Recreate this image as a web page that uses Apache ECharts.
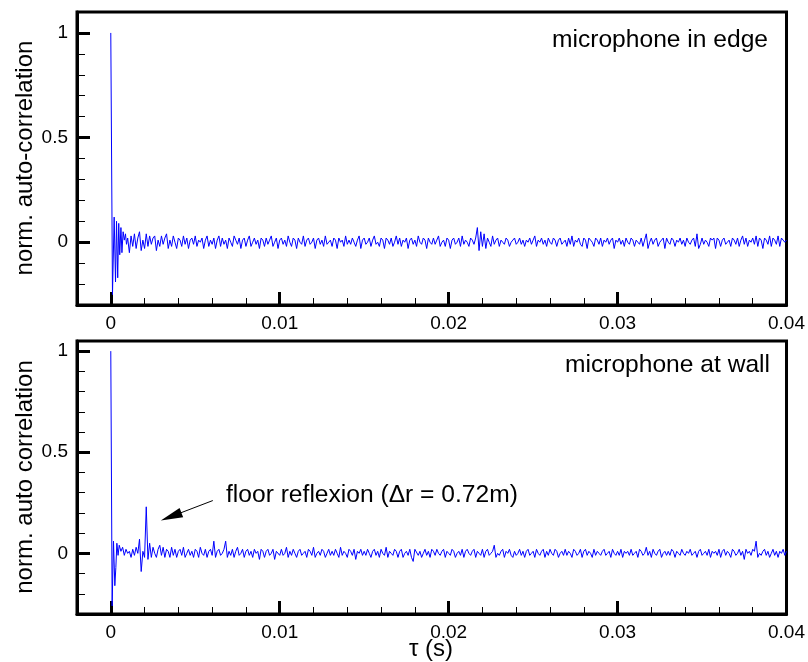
<!DOCTYPE html>
<html>
<head>
<meta charset="utf-8">
<script src="https://cdn.jsdelivr.net/npm/echarts@6/dist/echarts.min.js"></script>
<style>html,body{margin:0;padding:0;background:#fff}#c{width:808px;height:662px}</style>
</head>
<body>
<div id="c"></div>
<script>
// ---------- data ----------
const xMajorTicks = [0, 0.01, 0.02, 0.03, 0.04];
const xMinorTicks = [-0.002,0,0.002,0.004,0.006,0.008,0.01,0.012,0.014,0.016,0.018,0.02,0.022,0.024,0.026,0.028,0.03,0.032,0.034,0.036,0.038,0.04];
const yMajorTicks = [0, 0.5, 1];
const yMinorTicks = [-0.3,-0.2,-0.1,0,0.1,0.2,0.3,0.4,0.5,0.6,0.7,0.8,0.9,1.0];

const topTitle = 'microphone in edge';
const bottomTitle = 'microphone at wall';
const topYName = 'norm. auto-correlation';
const bottomYName = 'norm. auto correlation';
const xName = 'τ (s)';
const noteText = 'floor reflexion (Δr = 0.72m)';
const arrowFrom = [0.00604, 0.261];
const arrowTo = [0.00357, 0.182];

// first millisecond, read with finer time resolution
const topHeadTau = [0, 0.0001, 0.0002, 0.00028, 0.00034, 0.00041, 0.00047, 0.00053, 0.0006, 0.00066, 0.00073, 0.0008, 0.00087, 0.00093, 0.001];
const topHeadVal = [1, -0.25, 0.12, -0.19, 0.10, -0.17, 0.09, -0.06, 0.07, -0.05, 0.05, 0.01, 0.04, -0.01, 0.02];
const botHeadTau = [0, 0.00008, 0.00016, 0.00024, 0.0003, 0.00036, 0.00043, 0.0005, 0.0006, 0.0007, 0.0008, 0.0009, 0.001];
const botHeadVal = [1, -0.26, 0.06, -0.16, -0.07, 0.05, -0.01, 0.04, 0.01, 0.03, -0.01, 0.02, 0.00];

// remainder, sampled every 0.1 ms from 0.0011 s to 0.0400 s
const tailStart = 0.0011;
const tauStep = 0.0001;
const topTailVal = [
-.05,.03,-.02,.04,-.03,.02,.05,-.04,.01,-.03,
.04,-.02,.03,-.01,.02,.03,-.04,.01,-.02,.03,
-.01,.02,.04,-.03,.01,-.02,.03,.00,-.03,.02,
.01,-.02,.03,-.01,.02,-.03,.01,.02,-.01,.03,
-.02,.01,.00,.02,-.03,.01,.03,-.02,.01,-.01,
.02,-.03,.01,.03,-.02,.02,-.01,.01,-.03,.02,
.00,-.02,.03,.01,-.01,.02,-.03,.01,.02,-.02,
.01,.03,-.02,.00,.02,-.01,.01,-.03,.02,.01,
-.02,.02,-.01,.01,.03,-.02,.00,.02,-.03,.01,
.02,-.01,.01,-.02,.03,.00,-.02,.02,.01,-.03,
.02,.00,-.01,.03,-.02,.01,.02,-.01,.00,.02,
-.03,.01,.02,-.01,.01,-.02,.03,-.01,.00,.01,
-.02,.02,.01,-.03,.02,.00,.01,-.02,.03,-.01,
.01,-.01,.02,.00,-.02,.01,.03,-.03,.01,.02,
-.01,.00,.02,-.02,.01,.03,-.01,.00,-.02,.02,
.01,-.03,.02,.01,-.01,.02,-.02,.00,.03,-.01,
.02,-.02,.01,.00,.02,-.03,.01,.02,-.01,.01,
-.02,.03,.00,-.01,.02,.01,-.03,.02,.00,-.01,
.02,-.01,.01,.03,-.02,.00,.01,-.02,.02,.01,
-.03,.01,.02,-.01,.00,.02,-.02,.03,-.01,.01,
.00,-.02,.02,.01,-.01,.02,.07,-.04,.05,-.02,
.04,-.03,.02,.00,-.02,.03,-.01,.01,.02,-.02,
.01,.00,-.01,.02,.01,-.02,.00,.01,.02,-.01,
.00,.02,-.01,.01,-.02,.01,.00,.02,-.01,.01,
.03,-.02,.01,.00,.02,-.01,.01,-.02,.02,.00,
-.01,.02,.01,-.02,.01,.02,-.01,.00,.01,-.02,
.02,-.01,.03,-.02,.01,.00,.02,-.01,-.02,.02,
.01,-.03,.02,.01,.00,-.02,.02,.01,-.01,.02,
-.02,.01,.00,.02,-.01,.01,.02,-.03,.01,.00,
.02,-.01,.01,-.02,.02,.00,-.01,.02,.01,-.02,
.01,.00,-.01,.02,-.02,.01,.04,-.03,.00,.02,
-.01,.01,.02,-.02,.00,.01,.02,-.03,.02,.00,
-.01,.02,.01,-.02,.01,.00,.02,-.01,.01,-.02,
.02,.00,-.01,.01,.02,-.02,.04,-.03,-.01,.02,
-.01,.01,.00,-.02,.02,.01,.02,-.03,.02,.01,
-.02,.01,.02,-.01,.00,.01,-.02,.02,.01,-.01,
.02,-.02,.01,.03,-.01,.02,-.02,.01,.00,.02,
-.01,.03,-.02,.02,.01,-.03,.02,.01,-.01,.03,
-.02,.02,.01,-.01,.03,-.02,.02,.01,.00,.01
];
const botTailVal = [
.01,-.02,.02,-.01,.03,.00,.07,-.09,.01,-.02,
.23,-.03,.05,-.02,.03,.00,-.02,.02,.04,-.01,
.03,-.02,.02,.01,-.02,.03,-.01,.02,-.02,.01,
.02,-.01,.03,-.02,.00,.02,-.01,.01,-.02,.02,
.01,-.02,.03,.00,-.01,.02,-.02,.01,.02,-.01,
.06,-.02,.01,.02,-.01,.00,.02,.06,-.02,.01,
-.01,.02,-.02,.01,.03,-.01,.00,.02,-.02,.01,
.02,-.01,.01,-.02,.02,.00,.01,-.03,.02,.01,
-.02,.01,.02,-.01,.00,.02,-.03,.01,.01,-.01,
.02,-.01,.00,.03,-.02,.01,-.01,.02,.00,-.02,
.01,.02,-.01,.00,.01,-.02,.02,.01,-.01,.03,
-.02,.00,.01,-.01,.02,.01,-.02,.00,.02,-.01,
.01,-.01,.02,.00,-.02,.03,-.01,.01,.00,-.02,
.02,.01,-.01,.02,-.03,.01,.00,.02,-.01,.01,
-.01,.02,.00,-.02,.01,.02,-.01,.01,-.02,.02,
.00,-.01,.03,-.02,.01,.00,-.01,.02,.01,-.02,
.01,.02,-.02,.00,.01,-.01,.02,-.02,-.04,.02,
.02,-.01,.01,-.02,.00,.02,-.01,.01,-.02,.02,
.01,-.01,.02,.00,-.01,.01,.02,-.02,.01,.00,
-.01,.02,.01,-.02,.00,.01,-.01,.02,-.02,.01,
.02,.00,-.01,.01,.02,-.02,.01,.00,-.01,.02,
-.02,.01,.02,-.01,.00,.01,.04,-.02,.00,-.01,
.01,.02,-.02,.01,.00,.02,-.01,-.02,.01,-.01,
.00,.02,-.01,.01,-.02,.01,.02,-.01,.00,.01,
-.02,.02,.00,-.01,.01,.02,-.02,.01,-.01,.02,
.00,-.01,.02,.01,-.02,.00,.01,-.01,.02,-.01,
.01,.00,-.02,.02,.01,-.01,.00,.02,-.02,.01,
.02,-.01,.01,.00,-.02,.02,-.01,.01,.00,-.01,
.01,.02,-.01,.00,.01,-.02,.02,.00,-.01,.01,
-.01,.02,-.02,.01,.00,.01,-.01,.02,-.01,.00,
.01,-.02,.02,.01,-.01,.00,.03,-.01,.01,-.02,
.02,.00,-.01,.01,.02,-.02,.00,.01,-.01,.01,
-.01,.02,.01,-.02,.01,.00,-.01,.02,.00,-.01,
.01,.00,.02,-.01,.00,.01,-.02,.01,.02,-.01,
.00,.01,-.01,.02,-.02,.01,.00,.01,-.01,.02,
-.02,.01,.02,-.01,.01,.00,-.02,.02,.01,-.01,
.00,.02,-.01,.01,-.03,.02,.00,.01,-.01,.02,
.01,.06,-.02,.00,-.01,.01,.02,-.01,.01,-.02,
.00,.02,-.01,.01,-.02,.01,.00,.02,-.01,.01
];

function build(headT, headV, tailV) {
  const d = headT.map((t, i) => [t, headV[i]]);
  tailV.forEach((v, i) => d.push([+(tailStart + i * tauStep).toFixed(5), v]));
  return d;
}

// ---------- chart ----------
const FONT = "'Liberation Sans', Arial, Helvetica, sans-serif";
const chart = echarts.init(document.getElementById('c'), null, {renderer: 'canvas'});

function xAxes(grid) {
  return [
    { gridIndex: grid, type: 'value', min: -0.002, max: 0.04, position: 'bottom',
      axisLine: {show: true, onZero: false, lineStyle: {color: '#000', width: 3}},
      axisTick: {show: true, inside: true, length: 7, lineStyle: {color: '#000', width: 1}, customValues: xMinorTicks},
      axisLabel: {show: false}, splitLine: {show: false} },
    { gridIndex: grid, type: 'value', min: -0.002, max: 0.04, position: 'bottom',
      axisLine: {show: false, onZero: false},
      axisTick: {show: true, inside: true, length: 13, lineStyle: {color: '#000', width: 3}, customValues: xMajorTicks},
      axisLabel: {show: true, customValues: xMajorTicks, color: '#000', fontSize: 19, fontFamily: FONT, margin: 9},
      splitLine: {show: false} }
  ];
}
function yAxes(grid, max) {
  return [
    { gridIndex: grid, type: 'value', min: -0.3, max: max, position: 'left',
      axisLine: {show: true, onZero: false, lineStyle: {color: '#000', width: 3}},
      axisTick: {show: true, inside: true, length: 8, lineStyle: {color: '#000', width: 1}, customValues: yMinorTicks},
      axisLabel: {show: false}, splitLine: {show: false} },
    { gridIndex: grid, type: 'value', min: -0.3, max: max, position: 'left',
      axisLine: {show: false, onZero: false},
      axisTick: {show: true, inside: true, length: 13, lineStyle: {color: '#000', width: 3}, customValues: yMajorTicks},
      axisLabel: {show: true, customValues: yMajorTicks, color: '#000', fontSize: 19, fontFamily: FONT, margin: 9},
      splitLine: {show: false} }
  ];
}

const txt = (x, y, text, align, vAlign, rot, size) => ({
  type: 'text', x: x, y: y, rotation: rot || 0, silent: true,
  style: {text: text, fill: '#000', font: (size || 24) + 'px ' + FONT, textAlign: align, textVerticalAlign: vAlign}
});

chart.setOption({
  animation: false,
  backgroundColor: '#fff',
  grid: [
    {left: 77, top: 12, width: 711, height: 293, show: true, borderColor: '#000', borderWidth: 3, backgroundColor: 'transparent'},
    {left: 77, top: 341, width: 711, height: 273, show: true, borderColor: '#000', borderWidth: 3, backgroundColor: 'transparent'}
  ],
  xAxis: xAxes(0).concat(xAxes(1)),
  yAxis: yAxes(0, 1.1).concat(yAxes(1, 1.05)),
  series: [
    { type: 'line', xAxisIndex: 0, yAxisIndex: 0, data: build(topHeadTau, topHeadVal, topTailVal),
      showSymbol: false, symbol: 'none', lineStyle: {color: '#0000ff', width: 1}, z: 3 },
    { type: 'line', xAxisIndex: 2, yAxisIndex: 2, data: build(botHeadTau, botHeadVal, botTailVal),
      showSymbol: false, symbol: 'none', lineStyle: {color: '#0000ff', width: 1}, z: 3,
      markLine: {
        silent: true, animation: false,
        lineStyle: {color: '#000', width: 1, type: 'solid'},
        label: {show: false},
        data: [[
          {coord: arrowFrom, symbol: 'none'},
          {coord: arrowTo, symbol: 'triangle', symbolSize: [10, 22], itemStyle: {color: '#000'}}
        ]]
      } }
  ],
  graphic: [
    txt(768, 40, topTitle, 'right', 'middle', 0, 24.6),
    txt(770, 365, bottomTitle, 'right', 'middle', 0, 24.6),
    txt(226, 495, noteText, 'left', 'middle', 0, 24.6),
    txt(25, 158, topYName, 'center', 'middle', Math.PI / 2, 24),
    txt(25, 477, bottomYName, 'center', 'middle', Math.PI / 2, 24),
    txt(431, 649, xName, 'center', 'middle', 0, 24)
  ]
});
</script>
</body>
</html>
